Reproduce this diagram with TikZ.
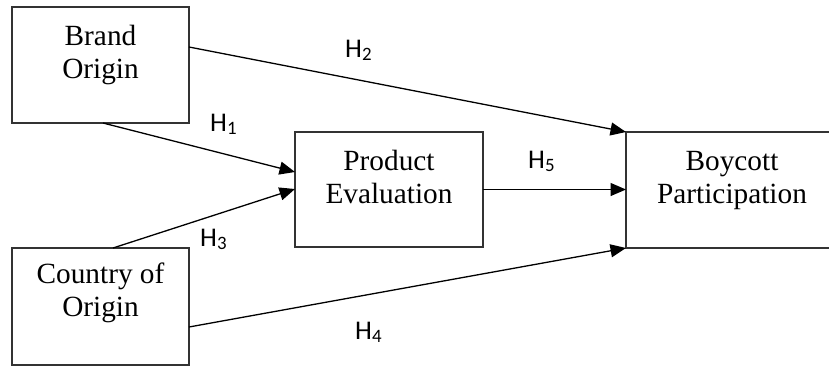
\documentclass[tikz,border=0pt]{standalone}
\usepackage{fontspec}
\setmainfont{Liberation Serif}
\newfontfamily\labelfont{Carlito}
\usetikzlibrary{arrows.meta}

\begin{document}
\begin{tikzpicture}[x=1pt,y=-1pt,
  conbox/.style={draw=black!80, line width=1.3pt, rectangle, inner sep=0pt, outer sep=0pt},
  boxtext/.style={anchor=north, inner sep=0pt, align=center,
    font=\fontsize{29.3}{33}\selectfont},
  hyp/.style={anchor=base west, inner sep=0pt, font=\labelfont\fontsize{27}{30}\selectfont},
  link/.style={draw=black, line width=1.3pt, -{Triangle[length=15.5pt,width=13pt]}}
]
\useasboundingbox (0,0) rectangle (829,367);

% constructs
\node[conbox, minimum width=177pt, minimum height=116pt] (brand)   at (100.5,65)  {};
\node[conbox, minimum width=177pt, minimum height=117pt] (country) at (100.5,306.5) {};
\node[conbox, minimum width=188pt, minimum height=115pt] (product) at (389,189.5) {};
\node[conbox, minimum width=212pt, minimum height=116pt] (boycott) at (732,190) {};

% box captions (first baseline about 38pt below the top edge)
\node[boxtext] at ([yshift=-14.9pt]brand.north)   {\strut Brand\\Origin};
\node[boxtext] at ([yshift=-12pt]country.north)   {\strut Country of\\Origin};
\node[boxtext] at ([yshift=-14.9pt]product.north) {\strut Product\\Evaluation};
\node[boxtext] at ([yshift=-14.9pt]boycott.north) {\strut Boycott\\Participation};

% end points on the box borders
\coordinate (h2s) at ([yshift=18pt]brand.east);
\coordinate (h1s) at ([xshift=2.5pt]brand.south);
\coordinate (h1e) at ([yshift=17.5pt]product.west);
\coordinate (h3s) at ([xshift=12.5pt]country.north);
\coordinate (h3e) at ([yshift=0.5pt]product.west);
\coordinate (h4s) at ([yshift=-20.5pt]country.east);

% hypothesised paths
\draw[link] (h2s) -- (boycott.north west);
\draw[link] (h1s) -- (h1e);
\draw[link] (h3s) -- (h3e);
\draw[link] (product.east) -- (product.east -| boycott.west);
\draw[link] (h4s) -- (boycott.south west);

% path labels
\node[hyp] (l2) at (345,57)  {H\textsubscript{2}};
\node[hyp] (l1) at (210,131) {H\textsubscript{1}};
\node[hyp] (l3) at (200,246) {H\textsubscript{3}};
\node[hyp] (l5) at (528,168) {H\textsubscript{5}};
\node[hyp] (l4) at (355,339) {H\textsubscript{4}};
\end{tikzpicture}
\end{document}
